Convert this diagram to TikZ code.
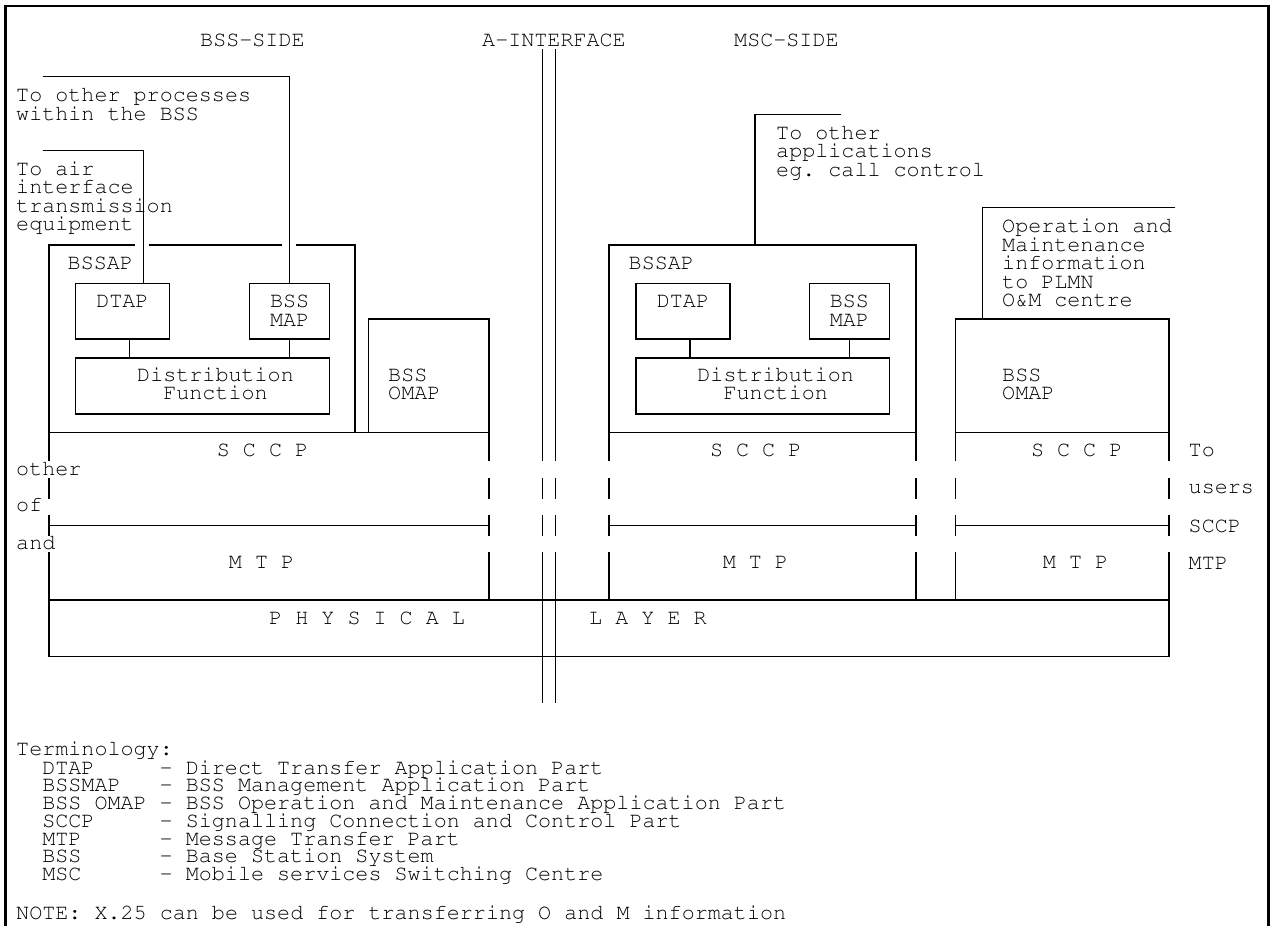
\documentclass[tikz,border=0pt]{standalone}
\usepackage[T1]{fontenc}
\usepackage{courier}
\usetikzlibrary{positioning}
\frenchspacing

\begin{document}
\begin{tikzpicture}[x=1pt, y=-1pt]
    \tikzstyle{txt} = [inner sep=0pt, anchor=base west, align=left, font=\ttfamily\fontsize{21.75}{18.5}\selectfont]
    \tikzstyle{legend} = [txt, font=\ttfamily\fontsize{21.75}{17.75}\selectfont]
    \tikzstyle{block} = [rectangle, draw, line width=1.3pt, inner sep=0pt, anchor=north west]
    \tikzstyle{wire} = [draw, line width=1.3pt]
    \tikzstyle{frame} = [draw, line width=2.5pt]

    \useasboundingbox (0,0) rectangle (1276,926);
    \path [frame] (5.5,926) -- (5.5,6) -- (1268.5,6) -- (1268.5,926);

    % headings
    \node [txt] (bssside) at (200,46) {BSS-SIDE};
    \node [txt] (aif) at (482,46) {A-INTERFACE};
    \node [txt] (mscside) at (734,46) {MSC-SIDE};

    % BSS side (multi-line texts sit on their last baseline)
    \node [txt] (procs) at (16,120) {To other processes\\within the BSS};
    \node [txt] (air) at (16,230.5) {To air\\interface\\transmission\\equipment};
    \node [txt] (bssapL) at (67.5,269.5) {BSSAP};
    \node [block, minimum width=94, minimum height=55.6] (dtapL) at (74.7,282.7) {};
    \node [block, minimum width=80, minimum height=55.6] (mapL) at (249,282.7) {};
    \node [block, minimum width=254.3, minimum height=56] (distL) at (74.7,357.3) {};
    \node [txt, anchor=base] at ([yshift=-25]dtapL.north) {DTAP};
    \node [txt, anchor=base, align=center] at ([yshift=-43.5]mapL.north) {BSS\\MAP};
    \node [txt, anchor=base, align=center] at ([xshift=13, yshift=-42.2]distL.north) {Distribution\\Function};
    \node [txt] (omapL) at (388,399.5) {BSS\\OMAP};

    \coordinate (procsEnd) at (42.7,76.5);
    \coordinate (airEnd) at (42.7,150.7);
    \draw [wire] (procsEnd) -| (mapL.north);
    \draw [wire] (airEnd) -| ([xshift=-26.6]dtapL.north east);
    \draw [wire] ([xshift=7]dtapL.south) -- ([xshift=7]dtapL.south |- distL.north);
    \draw [wire] (mapL.south) -- (mapL.south |- distL.north);

    \draw [wire] (135,245) -- (49,245) -- (49,461);
    \draw [wire] (148.5,245) -- (282,245);
    \draw [wire] (296,245) -- (355,245) -- (355,432.3);
    \draw [wire] (368.6,432.3) -- (368.6,319) -- (489,319) -- (489,461);
    \draw [wire] (49,432.3) -- (489,432.3);
    \draw [wire] (49,525.7) -- (489,525.7);

    % MSC side
    \node [txt] (appl) at (776,176.3) {To other\\applications\\eg. call control};
    \node [txt] (bssapR) at (628.5,269.5) {BSSAP};
    \node [block, minimum width=94, minimum height=55.6] (dtapR) at (635.3,282.7) {};
    \node [block, minimum width=80.2, minimum height=55.6] (mapR) at (808.6,282.7) {};
    \node [block, minimum width=253.5, minimum height=56] (distR) at (635.3,357.3) {};
    \node [txt, anchor=base] at ([yshift=-25]dtapR.north) {DTAP};
    \node [txt, anchor=base, align=center] at ([yshift=-43.5]mapR.north) {BSS\\MAP};
    \node [txt, anchor=base, align=center] at ([xshift=13, yshift=-42.2]distR.north) {Distribution\\Function};

    \coordinate (applEnd) at (841.4,114.3);
    \coordinate (bssapRtop) at (755,245);
    \draw [wire] (applEnd) -| (bssapRtop);
    \draw [wire] ([xshift=7]dtapR.south) -- ([xshift=7]dtapR.south |- distR.north);
    \draw [wire] (mapR.south) -- (mapR.south |- distR.north);

    \draw [wire] (609,461) -- (609,245) -- (916,245) -- (916,461);
    \draw [wire] (609,432.3) -- (916,432.3);
    \draw [wire] (609,525.7) -- (916,525.7);

    % O&M
    \node [txt] (om) at (1002,306.5) {Operation and\\Maintenance\\information\\to PLMN\\O\&M centre};
    \node [txt] (omapR) at (1002,399.5) {BSS\\OMAP};
    \coordinate (omEnd) at (1175.4,207.7);
    \coordinate (omapRtop) at (982.8,319);
    \draw [wire] (omEnd) -| (omapRtop);
    \draw [wire] (955.6,461) -- (955.6,319) -- (1169,319) -- (1169,461);
    \draw [wire] (955.6,432.3) -- (1169,432.3);
    \draw [wire] (955.6,525.7) -- (1169,525.7);

    % broken verticals through SCCP and MTP
    \foreach \xx in {49,489,542.3,555.7,609,916,955.6,1169} {
        \draw [wire] (\xx,478) -- (\xx,499);
        \draw [wire] (\xx,515) -- (\xx,536);
    }
    \foreach \xx in {489,609,916,955.6}
        \draw [wire] (\xx,552) -- (\xx,600);
    \foreach \xx in {542.3,555.7} {
        \draw [wire] (\xx,49) -- (\xx,461);
        \draw [wire] (\xx,552) -- (\xx,703);
    }

    % physical layer
    \draw [wire] (49,552) -- (49,656.7) -- (1169,656.7) -- (1169,552);
    \draw [wire] (49,600) -- (1169,600);

    \node [txt, anchor=base] at (262.5,456.7) {S C C P};
    \node [txt, anchor=base] at (755.7,456.7) {S C C P};
    \node [txt, anchor=base] at (1076.7,456.7) {S C C P};
    \node [txt, anchor=base] at (261.6,568.3) {M T P};
    \node [txt, anchor=base] at (755.4,568.3) {M T P};
    \node [txt, anchor=base] at (1075.6,568.3) {M T P};
    \node [txt] (phys) at (269,624.3) {P H Y S I C A L};
    \node [txt] (layer) at (589,624.3) {L A Y E R};

    \node [txt] at (16,475) {other};
    \node [txt] at (16,511) {of};
    \node [txt] at (16,549) {and};
    \node [txt] at (1188.5,456) {To};
    \node [txt] at (1188.5,493) {users};
    \node [txt] at (1188.5,532) {SCCP};
    \node [txt] at (1188.5,569.5) {MTP};

    % terminology
    \node [txt] (term) at (16,755.7) {Terminology:};
    \node [legend] (abbr) at (42.1,880.5) {DTAP\\BSSMAP\\BSS OMAP\\SCCP\\MTP\\BSS\\MSC};
    \node [legend] (expl) at (159.5,880.5) {- Direct Transfer Application Part\\- BSS Management Application Part\\- BSS Operation and Maintenance Application Part\\- Signalling Connection and Control Part\\- Message Transfer Part\\- Base Station System\\- Mobile services Switching Centre};
    \node [txt] (note) at (16,919) {NOTE: X.25 can be used for transferring O and M information};
\end{tikzpicture}
\end{document}
